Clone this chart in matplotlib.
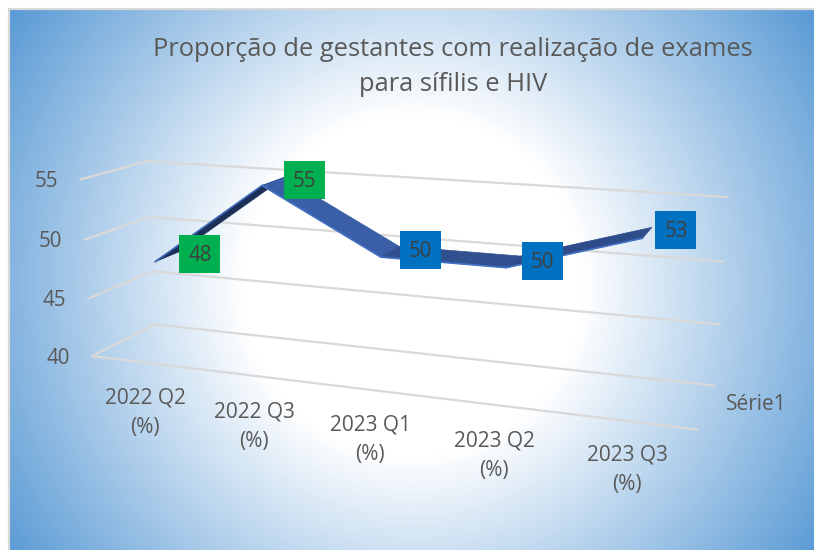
import matplotlib
matplotlib.use('Agg')
import matplotlib.pyplot as plt
import numpy as np
from matplotlib.patches import Rectangle

plt.rcParams['font.family'] = ['Open Sans', 'DejaVu Sans']

title = 'Proporção de gestantes com realização de exames\npara sífilis e HIV'
categories = ['2022 Q2\n(%)', '2022 Q3\n(%)', '2023 Q1\n(%)', '2023 Q2\n(%)', '2023 Q3\n(%)']
values = [48, 55, 50, 50, 53]
label_colors = ['#00B050', '#00B050', '#0070C0', '#0070C0', '#0070C0']
segment_colors = ['#1B2F57', '#3A5FA6', '#30508F', '#2E4C8A']
y_ticks = [40, 45, 50, 55]
series_name = 'Série1'

# where the 3d box corners land on the picture: (x, depth, value) -> pixel
box_model = [(0, 0, 40), (0, 1, 40), (1, 0, 40), (1, 1, 40), (0, 0, 55), (0, 1, 55), (1, 1, 55),
             (0, 0, 50), (0, 1, 50), (1, 1, 50), (0, 0, 45), (0, 1, 45), (1, 1, 45)]
box_pixels = [(92, 356), (155, 324), (698, 429), (715, 386), (80, 179.5), (147, 161), (728, 197),
              (84.5, 240), (150, 217), (723, 261), (88, 299), (152, 271.5), (719.5, 325)]
cat_label_pos = [(145, 413), (254, 427), (370, 440), (494, 456), (627, 470)]
label_nudge = [(0, 0), (0, 0), (1, 1), (2, 2), (4, 0)]


def fit_camera(model, pixels):
    rows = []
    for (x, d, v), (px, py) in zip(model, pixels):
        rows.append([x, d, v, 1, 0, 0, 0, 0, -px * x, -px * d, -px * v, -px])
        rows.append([0, 0, 0, 0, x, d, v, 1, -py * x, -py * d, -py * v, -py])
    return np.linalg.svd(np.array(rows, dtype=float))[2][-1].reshape(3, 4)


camera = fit_camera(box_model, box_pixels)


def project(x, depth, value):
    p = camera @ np.array([x, depth, value, 1.0])
    return p[0] / p[2], p[1] / p[2]


def line3d(ax, a, b, **kw):
    pa, pb = project(*a), project(*b)
    ax.plot([pa[0], pb[0]], [pa[1], pb[1]], **kw)


fig = plt.figure(figsize=(8.14, 5.5), dpi=100)
ax = fig.add_axes([0, 0, 1, 1])

# radial background
xx, yy = np.meshgrid(np.arange(9, 814), np.arange(9, 550))
t = np.clip((np.hypot(xx - 412, yy - 285) - 170) / (483 - 170), 0, 1)[..., None]
bg = (1 - t) * np.array([1.0, 1.0, 1.0]) + t * np.array([0x5B, 0x9B, 0xD5]) / 255
ax.imshow(bg, extent=(9, 814, 550, 9), aspect='auto', zorder=0)
ax.set_xlim(0, 814)
ax.set_ylim(550, 0)
ax.axis('off')
ax.plot([9, 9, 814], [550, 9, 9], color='#D9D9D9', lw=1.6, zorder=1)

grid_kw = dict(color='#D9D9D9', lw=1.6, zorder=2, solid_capstyle='round')
for v in y_ticks:
    line3d(ax, (0, 0, v), (0, 1, v), **grid_kw)
    line3d(ax, (0, 1, v), (1, 1, v), **grid_kw)
    px, py = project(0, 0, v)
    ax.text(px - 34, py + 2, str(v), ha='center', va='center', fontsize=14.8, color='#595959')
line3d(ax, (0, 0, y_ticks[0]), (1, 0, y_ticks[0]), **grid_kw)

# ribbon
front, back = 0.25, 0.65
xs = [(i + 0.5) / len(values) for i in range(len(values))]
for i in range(len(values) - 1):
    quad = [project(xs[i], front, values[i]), project(xs[i + 1], front, values[i + 1]),
            project(xs[i + 1], back, values[i + 1]), project(xs[i], back, values[i])]
    ax.fill(*zip(*quad), color=segment_colors[i], lw=0.5, zorder=3)
    edge = '#3F68B8' if i == 0 else '#4472C4'
    a, b = quad[0], quad[1]
    ax.plot([a[0], b[0]], [a[1], b[1]], color=edge, lw=1.2, zorder=4)

for x, v, c, (nx, ny) in zip(xs, values, label_colors, label_nudge):
    px, py = project(x, back, v)
    cx, cy = px + 20 + nx, py + 3 + ny
    ax.add_patch(Rectangle((cx - 20.5, cy - 19), 41, 38, color=c, lw=0, zorder=5))
    ax.text(cx, cy + 1, str(v), ha='center', va='center', fontsize=14.8, color='#404040', zorder=6)

for name, (px, py) in zip(categories, cat_label_pos):
    ax.text(px, py, name, ha='center', va='center', fontsize=15, color='#595959',
            linespacing=1.55, multialignment='center')
ax.text(756, 405, series_name, ha='center', va='center', fontsize=15, color='#595959')
ax.text(453, 67, title, ha='center', va='center', fontsize=18.4, color='#595959', linespacing=1.5,
        multialignment='center')

fig.savefig('out.png', dpi=100)
